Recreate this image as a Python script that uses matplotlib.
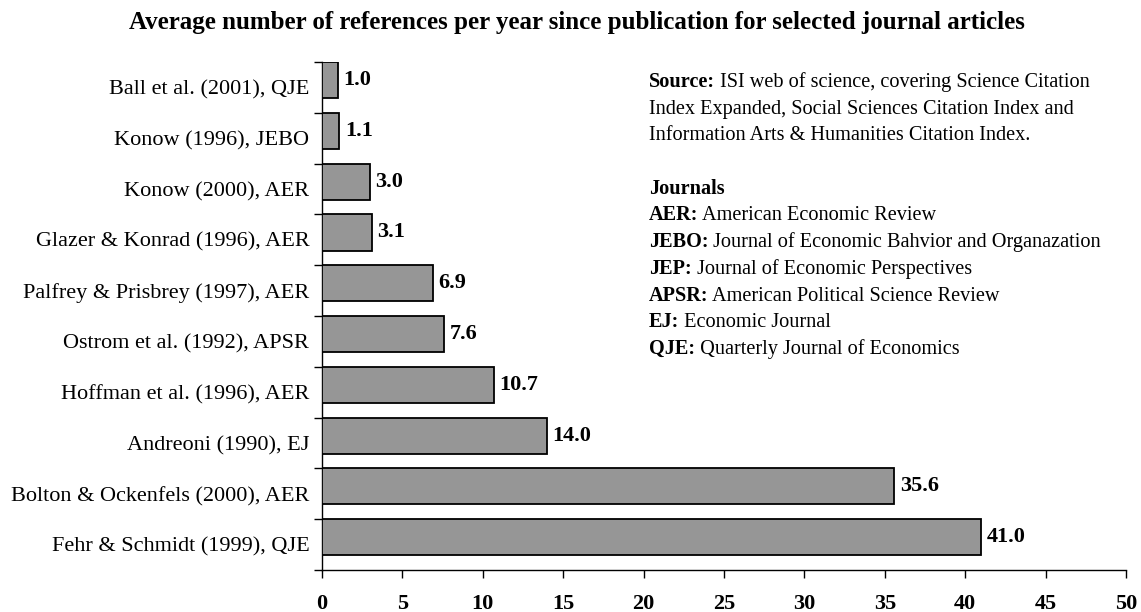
import numpy as np
import matplotlib
matplotlib.use("Agg")
import matplotlib.pyplot as plt

# ==== Data (top to bottom) ====
articles = [
    "Ball et al. (2001), QJE",
    "Konow (1996), JEBO",
    "Konow (2000), AER",
    "Glazer & Konrad (1996), AER",
    "Palfrey & Prisbrey (1997), AER",
    "Ostrom et al. (1992), APSR",
    "Hoffman et al. (1996), AER",
    "Andreoni (1990), EJ",
    "Bolton & Ockenfels (2000), AER",
    "Fehr & Schmidt (1999), QJE",
]
refs_per_year = [1.0, 1.1, 3.0, 3.1, 6.9, 7.6, 10.7, 14.0, 35.6, 41.0]
x_ticks = [0, 5, 10, 15, 20, 25, 30, 35, 40, 45, 50]

source_lines = [
    ("Source:", " ISI web of science, covering Science Citation"),
    ("", "Index Expanded, Social Sciences Citation Index and"),
    ("", "Information Arts & Humanities Citation Index."),
]
journal_lines = [
    ("AER:", " American Economic Review"),
    ("JEBO:", " Journal of Economic Bahvior and Organazation"),
    ("JEP:", " Journal of Economic Perspectives"),
    ("APSR:", " American Political Science Review"),
    ("EJ:", " Economic Journal"),
    ("QJE:", " Quarterly Journal of Economics"),
]

plt.rcParams['font.family'] = ['Liberation Serif', 'DejaVu Serif']

W, H = 1141, 612
fig = plt.figure(figsize=(W / 100, H / 100), dpi=100)
ax = fig.add_axes([0.282, 0.0686, 0.705, 0.830])

n = len(articles)
pos = np.arange(n)
bar_h = 0.71
# bars sit at the top of each category band
ax.barh(pos - 0.5 + bar_h / 2, refs_per_year, height=bar_h,
        color="#969696", edgecolor="black", linewidth=1.3, zorder=3)

for p, v in zip(pos, refs_per_year):
    ax.annotate(f"{v:.1f}", xy=(v, p - 0.5 + bar_h / 2), xytext=(4, 0),
                textcoords="offset points", va="center", ha="left",
                fontsize=16, fontweight="bold")

ax.set_ylim(n - 0.5, -0.5)
ax.set_xlim(0, 50)
ax.set_yticks(pos)
ax.set_yticklabels(articles, fontsize=16)
ax.set_yticks(np.arange(n + 1) - 0.5, minor=True)
ax.tick_params(axis="y", which="major", length=0, pad=9)
ax.tick_params(axis="y", which="minor", length=6, width=1)
ax.set_xticks(x_ticks)
ax.set_xticklabels([str(t) for t in x_ticks], fontsize=16, fontweight="bold")
ax.tick_params(axis="x", length=6, width=1, pad=11)

for s in ["top", "right"]:
    ax.spines[s].set_visible(False)
for s in ["left", "bottom"]:
    ax.spines[s].set_linewidth(1)

fig.text(577 / W, 1 - 22 / H,
         "Average number of references per year since publication for selected journal articles",
         ha="center", va="center", fontsize=18, fontweight="bold")

# ==== Notes box ====
renderer = fig.canvas.get_renderer()
note_fs = 14.6

def note_line(x, y, bold, rest):
    dx = 0
    if bold:
        t = fig.text(x, y, bold, fontsize=note_fs, fontweight="bold",
                     va="baseline", ha="left")
        dx = t.get_window_extent(renderer).width / W
    fig.text(x + dx, y, rest, fontsize=note_fs, va="baseline", ha="left")

x0 = 649 / W
line_px = 26.7
y_px = 87
for b, r in source_lines:
    note_line(x0, 1 - y_px / H, b, r)
    y_px += line_px
y_px += line_px
fig.text(x0, 1 - y_px / H, "Journals", fontsize=note_fs, fontweight="bold", va="baseline")
y_px += line_px
for b, r in journal_lines:
    note_line(x0, 1 - y_px / H, b, r)
    y_px += line_px

fig.savefig("out.png", dpi=100)
